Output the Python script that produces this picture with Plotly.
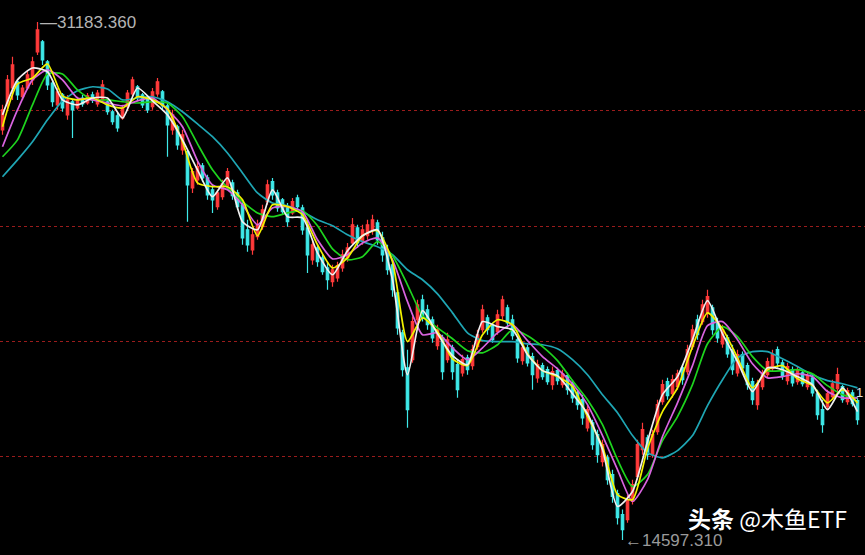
import plotly.graph_objects as go

# ---- candle data (daily-ish index, one candle per slot) ----
open_ = [
    27730, 28530, 29070, 29270, 28790, 29070, 29330, 30230, 30550, 29910,
    29230, 28530, 28850, 28210, 28630, 28430, 28750, 28590, 28850, 28560,
    28690, 28630, 28310, 28180, 28110, 28470, 28880, 29110, 28850, 28720,
    28470, 28880, 28950, 28500, 27730, 27830, 27090, 27030, 25870, 26130,
    26580, 26190, 25810, 25270, 25590, 25940, 26030, 25710, 25330, 24530,
    23890, 24310, 24630, 25430, 26070, 25710, 25490, 25230, 25070, 25550,
    25230, 24590, 23570, 23950, 23630, 23310, 22870, 22990, 23310, 23630,
    24110, 24590, 24180, 24340, 24530, 24750, 24270, 23830, 23410, 22510,
    21230, 20110, 20370, 21650, 22290, 21970, 21650, 20820, 21070, 20370,
    20750, 20210, 19950, 20430, 20180, 20790, 21330, 21710, 21460, 21270,
    21780, 22030, 21650, 21010, 20340, 20750, 20470, 19790, 20180, 20050,
    19570, 20020, 19570, 19860, 19600, 19310, 19090, 18190, 18350, 17970,
    17110, 17230, 16690, 16080, 15410, 15250, 15830, 16630, 17490, 17870,
    17330, 18070, 19030, 19670, 19280, 19510, 20110, 19990, 20790, 21650,
    21590, 21870, 22030, 21590, 20880, 21070, 20690, 19950, 20530, 20180,
    19670, 18930, 19510, 19890, 20080, 20690, 20270, 19700, 20050, 19670,
    19950, 19510, 19790, 19280, 18770, 18870, 19190, 19440, 19510, 19030,
    19310, 19060,
]
high = [
    28530, 29490, 30070, 29330, 29170, 29650, 30070, 31183.36, 30610, 29970,
    29330, 29070, 28910, 28850, 28690, 28790, 28850, 28910, 28950, 29010,
    29330, 28690, 28370, 28270, 28530, 29010, 29430, 29170, 28910, 28820,
    29070, 29390, 29010, 28590, 28370, 27890, 27730, 27090, 26510, 26710,
    26670, 26290, 25970, 25810, 26130, 26510, 26130, 25810, 25490, 24850,
    24590, 24850, 25330, 26130, 26190, 25810, 25550, 25390, 25550, 25650,
    25330, 24850, 24210, 24050, 23730, 23510, 23410, 23510, 23890, 24110,
    24910, 24690, 24690, 24850, 25010, 24850, 24470, 24050, 23570, 22610,
    21330, 20690, 21750, 22290, 22450, 22130, 21750, 21490, 21170, 21230,
    20850, 20370, 20530, 20530, 20850, 21330, 22130, 21810, 21550, 21970,
    22420, 22130, 21810, 21110, 20910, 20850, 20590, 20370, 20270, 20150,
    20150, 20110, 20050, 19950, 19730, 19410, 19250, 18930, 18450, 18130,
    17810, 17330, 16850, 16210, 15570, 16050, 16530, 17810, 18350, 17970,
    18130, 19090, 19730, 19790, 19890, 20050, 20210, 20850, 21490, 21810,
    22290, 22610, 22130, 21710, 21490, 21170, 20850, 20690, 20630, 20270,
    19790, 19730, 20050, 20430, 20690, 20790, 20370, 20270, 20150, 20150,
    20050, 19990, 19890, 19410, 19090, 19410, 19730, 20110, 19570, 19470,
    19410, 19150,
]
low = [
    27570, 28370, 28690, 28690, 28690, 29010, 29170, 30130, 29810, 29010,
    28470, 28370, 28310, 28050, 27470, 28370, 28470, 28530, 28590, 28470,
    28590, 28210, 27890, 27670, 28050, 28370, 28790, 28690, 28430, 28270,
    28370, 28790, 28370, 26870, 27570, 27090, 26930, 24790, 25710, 25970,
    26070, 25490, 25070, 25170, 25490, 25810, 25490, 25170, 24050, 23830,
    23730, 24210, 24530, 25330, 25490, 25110, 25010, 24630, 25010, 25170,
    24370, 23150, 23410, 23350, 23090, 22610, 22710, 22870, 23190, 23510,
    24050, 23950, 24050, 24210, 24370, 24050, 23510, 23090, 22390, 21170,
    19830, 18190, 20270, 21490, 21590, 21330, 20910, 20690, 19730, 20270,
    19730, 19150, 19830, 19890, 20050, 20690, 21230, 21170, 20910, 21170,
    21650, 21390, 21010, 20270, 20210, 20150, 19410, 19630, 19730, 19570,
    19410, 19570, 19470, 19250, 18990, 18770, 18290, 18070, 17490, 17070,
    16950, 16370, 15790, 15090, 14597.31, 15150, 15730, 16530, 17330, 17170,
    17230, 17970, 18930, 19090, 19150, 19410, 19570, 19890, 20690, 21010,
    21490, 21710, 21170, 20910, 20750, 20430, 19890, 19830, 19990, 19410,
    18930, 18770, 19410, 19790, 19990, 20110, 19730, 19570, 19510, 19570,
    19510, 19410, 19190, 18450, 18030, 18770, 19090, 19310, 18990, 18930,
    18870, 18290,
]
close = [
    28370, 29330, 29810, 28850, 29070, 29490, 29910, 30930, 29970, 29170,
    28630, 28950, 28430, 28690, 28370, 28690, 28560, 28820, 28690, 28910,
    29170, 28310, 27990, 27790, 28430, 28910, 29330, 28790, 28530, 28370,
    28950, 29270, 28500, 27890, 28210, 27250, 27570, 25970, 26390, 26550,
    26190, 25650, 25490, 25710, 26000, 26390, 25620, 25270, 24270, 24050,
    24370, 24690, 25170, 25970, 25650, 25230, 25110, 24790, 25430, 25270,
    24530, 23730, 24050, 23510, 23190, 22930, 23250, 23380, 23730, 23950,
    24690, 24110, 24530, 24690, 24850, 24210, 23730, 23250, 22610, 21390,
    20050, 18770, 21590, 22130, 21710, 21490, 21070, 21330, 19990, 21010,
    19990, 19410, 20370, 20050, 20690, 21170, 21970, 21330, 21010, 21810,
    22290, 21550, 21140, 20430, 20750, 20270, 19890, 20210, 19830, 19670,
    19990, 19700, 19920, 19410, 19150, 18930, 18510, 18770, 17650, 17330,
    17650, 16530, 15990, 15310, 14930, 15890, 16370, 17650, 18130, 17330,
    17970, 18930, 19570, 19220, 19730, 19920, 19730, 20690, 21330, 21170,
    22130, 22390, 21330, 21070, 21330, 20560, 20050, 20530, 20110, 19570,
    19090, 19570, 19920, 20310, 20530, 20270, 19860, 20150, 19630, 20020,
    19600, 19860, 19310, 18610, 18290, 19280, 19600, 19890, 19090, 19380,
    18960, 18450,
]
idx = list(range(len(close)))

# ---- moving-average lines, read every third candle ----
ma_idx = list(range(0, 172, 3))
ma5 = [28210, 29330, 29710, 29590, 28690, 28530, 28750, 28750, 28110, 29070,
       28660, 28210, 27410, 26450, 25590, 26190, 24790, 24530, 25810, 24950,
       24910, 23790, 23090, 23860, 24340, 24530, 22930, 19890, 21940, 21200,
       20500, 20210, 21590, 21430, 21330, 20530, 20020, 19860, 19280, 18640,
       17490, 15670, 16150, 17750, 19250, 19830, 21010, 22260, 21200, 20310,
       19350, 20110, 20050, 19830, 19570, 18770, 19470, 18710]
ma10 = [27830, 29200, 29390, 29840, 28820, 28690, 28750, 28530, 28430, 28790,
        28690, 28400, 27350, 26030, 25910, 25910, 25490, 24340, 25330, 25270,
        25010, 24050, 23310, 23630, 24340, 24500, 23510, 20950, 21710, 21270,
        20400, 20180, 21170, 21650, 21490, 20560, 20020, 19830, 19510, 18550,
        17590, 16050, 15890, 17520, 18710, 19470, 20790, 21870, 21360, 20430,
        19470, 20050, 20180, 19760, 19540, 18990, 19410, 18990]
ma20 = [27190, 28370, 29330, 29650, 29330, 28750, 28690, 28590, 28500, 28660,
        28750, 28370, 27830, 26740, 25970, 25810, 25330, 24690, 25230, 25270,
        25110, 24210, 23600, 23730, 24110, 24270, 23570, 22230, 21170, 21230,
        20750, 20370, 20750, 21230, 21490, 20980, 20470, 20080, 19600, 18930,
        17940, 16850, 15830, 16530, 17910, 18990, 20180, 21460, 21590, 21010,
        20240, 19790, 19830, 19920, 19830, 19350, 19150, 19150]
ma30 = [26870, 27410, 28530, 29520, 29520, 29010, 28690, 28690, 28630, 28590,
        28630, 28590, 28150, 27280, 26450, 25870, 25430, 25070, 24950, 25070,
        25140, 24660, 23920, 23570, 23670, 24150, 23700, 22770, 21780, 21390,
        21040, 20660, 20590, 20850, 21330, 21140, 20790, 20340, 19700, 19090,
        18290, 17170, 16310, 16690, 17780, 18550, 19570, 20880, 21430, 21110,
        20470, 20020, 20020, 20050, 19920, 19540, 19250, 19150]
ma60 = [26230, 26770, 27350, 28050, 28660, 28980, 29110, 29040, 28690, 28750,
        28790, 28630, 28310, 27920, 27510, 26990, 26350, 25710, 25390, 25300,
        25110, 24850, 24660, 24370, 24150, 23990, 23730, 23250, 22930, 22480,
        21870, 21230, 20980, 20950, 20950, 20880, 20850, 20720, 20370, 19890,
        19250, 18670, 17940, 17390, 17230, 17460, 17940, 18900, 19730, 20430,
        20630, 20630, 20400, 20150, 19890, 19700, 19600, 19470]

grid_levels = [17266, 20946, 24626, 28338]
high_label = "31183.360"
low_label = "14597.310"
last_label = "1"
last_label_value = 19310
peak_i, trough_i = 7, 124

fig = go.Figure()
fig.add_trace(go.Candlestick(
    x=idx, open=open_, high=high, low=low, close=close,
    increasing=dict(line=dict(color="#ff3a3a", width=1.2), fillcolor="#ff3a3a"),
    decreasing=dict(line=dict(color="#3ee8e8", width=1.2), fillcolor="#3ee8e8"),
    whiskerwidth=0, showlegend=False, hoverinfo="skip",
))

ma_styles = [
    (ma60, "#1fa6b4"),
    (ma30, "#1ed41e"),
    (ma20, "#d964e0"),
    (ma10, "#f2f200"),
    (ma5, "#f0f0f0"),
]
for vals, col in ma_styles:
    fig.add_trace(go.Scatter(
        x=ma_idx, y=vals, mode="lines",
        line=dict(color=col, width=1.7, shape="spline", smoothing=0.6),
        showlegend=False, hoverinfo="skip",
    ))

fig.add_annotation(x=peak_i, y=high[peak_i], xref="x", yref="y",
                   text="—" + high_label, showarrow=False,
                   xanchor="left", yanchor="middle",
                   font=dict(family="Liberation Sans, Arial", size=17, color="#b4b4b4"))
fig.add_annotation(x=trough_i, y=low[trough_i], xref="x", yref="y",
                   text="←" + low_label, showarrow=False,
                   xanchor="left", yanchor="middle",
                   font=dict(family="Liberation Sans, Arial", size=17, color="#9a9a9a"))
fig.add_annotation(x=0.981, y=0.067, xref="paper", yref="paper",
                   text="<b>头条</b> @木鱼ETF", showarrow=False,
                   xanchor="right", yanchor="middle",
                   font=dict(family="Noto Sans CJK SC", size=23, color="#ffffff"))
fig.add_annotation(x=1.0, y=last_label_value, xref="paper", yref="y",
                   text=last_label, showarrow=False, xanchor="right",
                   yanchor="middle",
                   font=dict(family="Liberation Sans, Arial", size=13, color="#e0e0e0"))

fig.update_layout(
    width=865, height=555,
    margin=dict(l=0, r=0, t=0, b=0),
    paper_bgcolor="#000000", plot_bgcolor="#000000",
    showlegend=False,
    xaxis=dict(range=[-0.5, 172.5], showgrid=False, zeroline=False,
               showticklabels=False, ticks="", showline=False,
               rangeslider=dict(visible=False)),
    yaxis=dict(range=[14117, 31888], tickvals=grid_levels, showticklabels=False,
               ticks="", showline=False, zeroline=False,
               showgrid=True, gridcolor="#9a1c1c", gridwidth=1, griddash="dot"),
)

fig.write_html(
    "out.html",
    config={"displayModeBar": False},
    post_script="document.body.style.margin='0';document.body.style.background='#000';",
)
